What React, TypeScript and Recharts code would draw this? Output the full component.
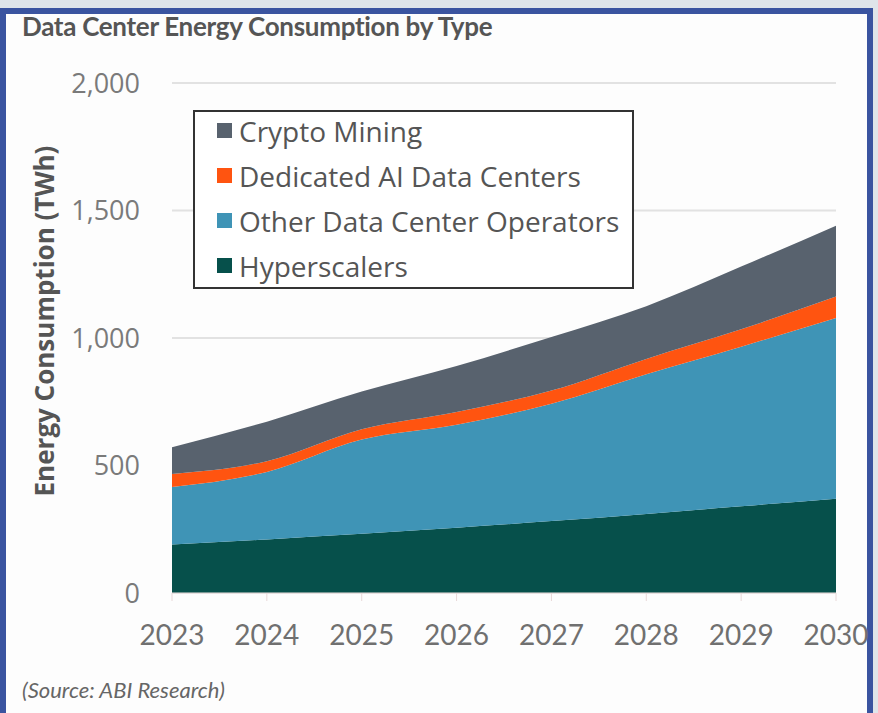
import { Area, AreaChart, CartesianGrid, XAxis, YAxis } from "recharts";

const years = ["2023", "2024", "2025", "2026", "2027", "2028", "2029", "2030"];
const hyperscalers = [190, 210, 232, 256, 282, 310, 340, 370];
const otherOperators = [226, 265, 370, 404, 460, 548, 626, 708];
const dedicatedAI = [51, 42, 40, 50, 52, 60, 68, 85];
const cryptoMining = [105, 155, 148, 180, 210, 207, 246, 277];
const yTicks = [0, 500, 1000, 1500, 2000];

const series = [
  { key: "crypto", name: "Crypto Mining", color: "#58626e" },
  { key: "ai", name: "Dedicated AI Data Centers", color: "#ff5410" },
  { key: "other", name: "Other Data Center Operators", color: "#3f94b6" },
  { key: "hyper", name: "Hyperscalers", color: "#06504b" },
];

const data = years.map((year, i) => ({
  year,
  hyper: hyperscalers[i],
  other: otherOperators[i],
  ai: dedicatedAI[i],
  crypto: cryptoMining[i],
}));

function LegendBox() {
  return (
    <div
      style={{
        position: "absolute",
        left: 193,
        top: 110,
        border: "2px solid #333",
        background: "#fff",
        width: 441,
        height: 179,
        boxSizing: "border-box",
        padding: "0 0 0 22px",
        fontFamily: "'Open Sans', sans-serif",
        fontSize: 28,
        color: "#555",
      }}
    >
      <div style={{ marginTop: -4 }}>
        {series.map((s) => (
          <div key={s.key} style={{ display: "flex", alignItems: "center", height: 45 }}>
            <span style={{ width: 15, height: 15, background: s.color, marginRight: 7 }} />
            <span>{s.name}</span>
          </div>
        ))}
      </div>
    </div>
  );
}

export default function App() {
  return (
    <div style={{ position: "relative", width: 878, height: 713, background: "#dfe5ea", overflow: "hidden" }}>
      <style>{`body{margin:0}`}</style>
      <div
        style={{
          position: "absolute",
          left: 0,
          top: 8,
          width: 873,
          height: 720,
          boxSizing: "border-box",
          border: "6px solid #3a54a0",
          background: "#fdfdfd",
        }}
      />
      <div
        style={{
          position: "absolute",
          left: 22,
          top: 10,
          fontFamily: "Lato, sans-serif",
          fontWeight: 700,
          fontSize: 26,
          letterSpacing: -0.3,
          color: "#555",
        }}
      >
        Data Center Energy Consumption by Type
      </div>
      <div style={{ position: "absolute", left: 0, top: 0 }}>
        <AreaChart
          width={878}
          height={713}
          data={data}
          margin={{ top: 83, right: 42, bottom: 0, left: 32 }}
        >
          <CartesianGrid vertical={false} stroke="#e2e2e2" strokeWidth={2} />
          <XAxis
            dataKey="year"
            height={120}
            axisLine={{ stroke: "#eedede" }}
            tickLine={{ stroke: "#e8d8d8" }}
            tickSize={8}
            tickMargin={24}
            interval={0}
            tick={{ fill: "#707070", fontSize: 28, fontFamily: "Lato, sans-serif" }}
          />
          <YAxis
            width={140}
            domain={[0, 2000]}
            ticks={yTicks}
            axisLine={false}
            tickLine={false}
            tickSize={0}
            tickMargin={32}
            tickFormatter={(v: number) => v.toLocaleString("en-US")}
            tick={{ fill: "#7a7a7a", fontSize: 27, fontFamily: "'Open Sans', sans-serif" }}
            label={({ viewBox }: any) => (
              <text
                x={viewBox.x + 12}
                y={viewBox.y + viewBox.height / 2 - 17}
                transform={`rotate(-90 ${viewBox.x + 12} ${viewBox.y + viewBox.height / 2 - 17})`}
                textAnchor="middle"
                dominantBaseline="central"
                fill="#555"
                fontSize={26}
                fontWeight={700}
                fontFamily="'Open Sans', sans-serif"
              >
                Energy Consumption (TWh)
              </text>
            )}
          />
          {[...series].reverse().map((s) => (
            <Area
              key={s.key}
              type="monotone"
              dataKey={s.key}
              name={s.name}
              stackId="1"
              stroke="none"
              fill={s.color}
              fillOpacity={1}
              isAnimationActive={false}
            />
          ))}
        </AreaChart>
      </div>
      <LegendBox />
      <div
        style={{
          position: "absolute",
          left: 22,
          top: 676,
          fontFamily: "Lato, sans-serif",
          fontStyle: "italic",
          fontSize: 22,
          color: "#666",
        }}
      >
        (Source: ABI Research)
      </div>
    </div>
  );
}
